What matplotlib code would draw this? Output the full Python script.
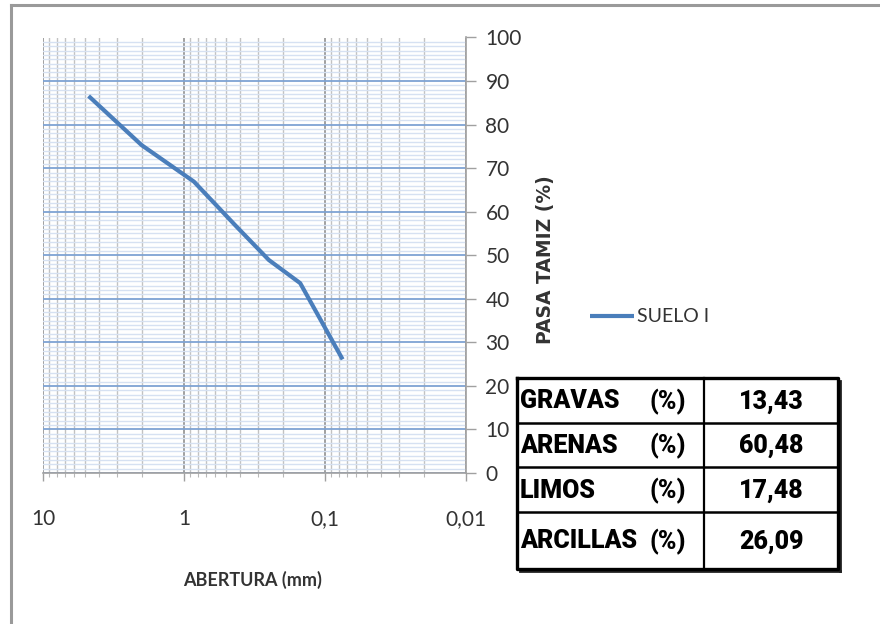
import matplotlib
matplotlib.use("Agg")
import matplotlib.pyplot as plt
from matplotlib.lines import Line2D
from matplotlib.ticker import FixedLocator, NullFormatter, MultipleLocator

# Grain-size distribution (sieve opening in mm, percent passing)
abertura_mm = [4.75, 2.0, 0.85, 0.425, 0.25, 0.15, 0.075]
pasa_pct = [86.57, 75.3, 66.9, 56.6, 48.9, 43.6, 26.09]
serie = "SUELO I"

x_ticks = [10, 1, 0.1, 0.01]
x_ticklabels = ["10", "1", "0,1", "0,01"]
y_ticks = list(range(0, 101, 10))

# Summary table
fracciones = ["GRAVAS", "ARENAS", "LIMOS", "ARCILLAS"]
porcentajes = ["13,43", "60,48", "17,48", "26,09"]

W, H = 880, 624
fig = plt.figure(figsize=(W / 100, H / 100), dpi=100)
fig.patch.set_facecolor("white")

TICKFONT = ["Lato", "DejaVu Sans"]
TABLEFONT = ["Roboto", "DejaVu Sans"]

def fx(px):
    return px / W

def fy(py):
    return 1 - py / H

# outer frame (left and top edges)
fig.add_artist(Line2D([fx(11), fx(11)], [fy(5), 0], color="#9a9a9a", lw=2.2))
fig.add_artist(Line2D([fx(11), 1], [fy(5), fy(5)], color="#9a9a9a", lw=2.2))

left, right, top, bottom = 43, 466, 37.5, 473
ax = fig.add_axes([fx(left), fy(bottom), fx(right - left), (bottom - top) / H])
ax.set_xscale("log")
ax.set_xlim(10, 0.01)
ax.set_ylim(0, 100)

ax.plot(abertura_mm, pasa_pct, color="#4a7ebb", lw=3.0, solid_joinstyle="round",
        solid_capstyle="butt", label=serie, zorder=5)

# x axis
ax.xaxis.set_major_locator(FixedLocator(x_ticks))
ax.set_xticklabels(x_ticklabels)
minors = [m * 10.0 ** e for e in (-2, -1, 0) for m in range(2, 10)]
ax.xaxis.set_minor_locator(FixedLocator(minors))
ax.xaxis.set_minor_formatter(NullFormatter())
ax.tick_params(axis="x", which="major", length=6, width=1, color="#a0a0a0",
               pad=20, labelsize=15, labelcolor="#333333")
ax.tick_params(axis="x", which="minor", length=3, width=0.8, color="#b8b8b8")
for lbl in ax.get_xticklabels():
    lbl.set_family(TICKFONT)

# y axis on the right
ax.yaxis.tick_right()
ax.set_yticks(y_ticks)
ax.yaxis.set_minor_locator(MultipleLocator(1))
ax.tick_params(axis="y", which="major", length=7, width=1, color="#a0a0a0",
               pad=7, labelsize=15, labelcolor="#333333")
ax.tick_params(axis="y", which="minor", length=0)
for lbl in ax.get_yticklabels():
    lbl.set_family(TICKFONT)

# grid
ax.grid(True, axis="y", which="minor", color="#d6e1f2", lw=1.0)
ax.grid(True, axis="x", which="minor", color="#c2c2c2", lw=1.0)
ax.grid(True, axis="y", which="major", color="#7ea3d3", lw=1.3)
ax.grid(True, axis="x", which="major", color="#909090", lw=1.2)
ax.set_axisbelow(True)

for side in ("left", "top"):
    ax.spines[side].set_visible(False)
for side in ("right", "bottom"):
    ax.spines[side].set_color("#a0a0a0")
    ax.spines[side].set_linewidth(1.2)

# axis titles
fig.text(fx(253), fy(580), "ABERTURA (mm)", ha="center", va="center",
         fontsize=13, fontweight="bold", family=TICKFONT, color="#333333")
fig.text(fx(545), fy(260), "PASA TAMIZ (%)", ha="center", va="center",
         rotation=90, fontsize=13.5, fontweight="bold", family="DejaVu Sans",
         color="#333333")

# legend
leg = ax.legend(loc="center left", bbox_to_anchor=(fx(580), fy(317)),
                bbox_transform=fig.transFigure, frameon=False,
                handlelength=2.3, handletextpad=0.15, borderpad=0,
                prop={"family": TICKFONT, "size": 14})
for t in leg.get_texts():
    t.set_color("#333333")

# summary table
tl, tr, tt, tb = 517, 838, 378, 569
row_edges = [378, 423, 467, 512, 569]
col_div = 704
tax = fig.add_axes([fx(tl), fy(tb), fx(tr - tl), (tb - tt) / H])
tax.set_xlim(tl, tr)
tax.set_ylim(tb, tt)
tax.axis("off")

# shadow on right and bottom
tax.add_line(Line2D([tr + 2, tr + 2], [tt + 3, tb + 2], color="#222222", lw=2.0,
                    clip_on=False))
tax.add_line(Line2D([tl + 3, tr + 2], [tb + 2, tb + 2], color="#222222", lw=2.0,
                    clip_on=False))
tax.add_line(Line2D([tl, tr, tr, tl, tl], [tt, tt, tb, tb, tt], color="black",
                    lw=2.4, clip_on=False))
tax.add_line(Line2D([col_div, col_div], [tt, tb], color="black", lw=1.6,
                    clip_on=False))
for y in row_edges[1:-1]:
    tax.add_line(Line2D([tl, tr], [y, y], color="black", lw=1.8, clip_on=False))

for i, (name, val) in enumerate(zip(fracciones, porcentajes)):
    yc = (row_edges[i] + row_edges[i + 1]) / 2 + 1
    tax.text(tl + 3, yc, name, ha="left", va="center", fontsize=18,
             fontweight="heavy", family=TABLEFONT, color="black")
    tax.text(686, yc, "(%)", ha="right", va="center", fontsize=18,
             fontweight="heavy", family=TABLEFONT, color="black")
    tax.text((col_div + tr) / 2, yc, val, ha="center", va="center",
             fontsize=18, fontweight="heavy", family=TABLEFONT, color="black")

fig.savefig("out.png", dpi=100, facecolor="white")
